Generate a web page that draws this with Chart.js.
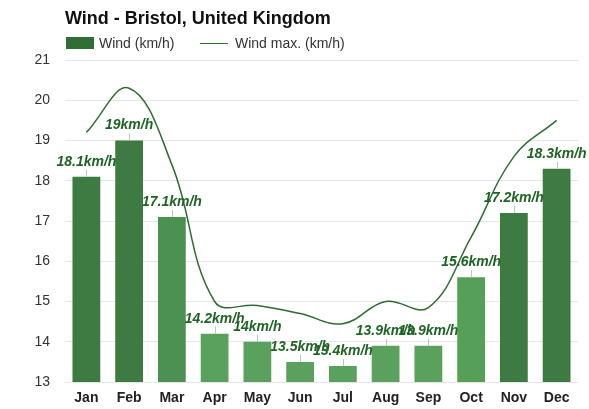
<!DOCTYPE html>
<html><head><meta charset="utf-8">
<script src="https://cdn.jsdelivr.net/npm/chart.js@4/dist/chart.umd.min.js"></script>
<style>
html,body{margin:0;padding:0;background:#fff;}
#wrap{position:relative;width:589px;height:409px;font-family:"Liberation Sans",Arial,Helvetica,sans-serif;}
#c{position:absolute;left:0;top:0;}
#title{position:absolute;left:65px;top:7px;font-size:18px;line-height:22px;font-weight:bold;color:#111;white-space:nowrap;}
.leg{position:absolute;top:35px;font-size:14px;line-height:16px;color:#333;white-space:nowrap;}
.box{position:absolute;left:66px;top:37px;width:28px;height:12px;background:#2f6e34;}
.ln{position:absolute;left:200px;top:43px;width:28px;height:0;border-top:1.5px solid #2e6d32;}
</style>
</head><body>
<div id="wrap">
<canvas id="c" width="589" height="409"></canvas>
<div id="title">Wind - Bristol, United Kingdom</div>
<div class="box"></div><div class="leg" style="left:99px">Wind (km/h)</div>
<div class="ln"></div><div class="leg" style="left:235px">Wind max. (km/h)</div>
</div>
<script>
const months = ["Jan","Feb","Mar","Apr","May","Jun","Jul","Aug","Sep","Oct","Nov","Dec"];
const windAvg = [18.1, 19, 17.1, 14.2, 14, 13.5, 13.4, 13.9, 13.9, 15.6, 17.2, 18.3];
const windMax = [19.2, 20.3, 18.4, 15.0, 14.9, 14.7, 14.45, 15.0, 14.85, 16.6, 18.6, 19.5];
const yMin = 13, yMax = 21, yStep = 1;
const unit = "km/h";

function barColor(v){
  if (v >= 17.2) return "#3d7b43";
  if (v >= 17.0) return "#4c9151";
  if (v >= 15.5) return "#55a059";
  return "#59a15d";
}

const labelPlugin = {
  id: "barLabels",
  afterDraw(chart){
    const ctx = chart.ctx;
    const meta = chart.getDatasetMeta(0);
    ctx.save();
    meta.data.forEach((el, i) => {
      const x = el.x, y = el.y;
      ctx.strokeStyle = "#b9c9b9";
      ctx.lineWidth = 1;
      ctx.beginPath();
      ctx.moveTo(Math.round(x) + 0.5, y);
      ctx.lineTo(Math.round(x) + 0.5, y - 7);
      ctx.stroke();
      ctx.font = "italic bold 14px 'Liberation Sans', Arial, sans-serif";
      ctx.fillStyle = "#1f6424";
      ctx.textAlign = "center";
      ctx.textBaseline = "middle";
      ctx.fillText(windAvg[i] + unit, x, y - 15);
    });
    ctx.restore();
  }
};

new Chart(document.getElementById("c"), {
  data: {
    labels: months,
    datasets: [
      {
        type: "bar",
        label: "Wind (km/h)",
        data: windAvg,
        backgroundColor: windAvg.map(barColor),
        borderWidth: 0,
        categoryPercentage: 1,
        barPercentage: 0.65,
        order: 1
      },
      {
        type: "line",
        label: "Wind max. (km/h)",
        data: windMax,
        borderColor: "#2e6d32",
        borderWidth: 1.5,
        pointRadius: 0,
        tension: 0.4,
        fill: false,
        order: 0
      }
    ]
  },
  options: {
    responsive: false,
    animation: false,
    layout: { padding: { top: 60, right: 11, left: 0, bottom: 0 } },
    plugins: { legend: { display: false }, title: { display: false }, tooltip: { enabled: false } },
    scales: {
      x: {
        grid: { display: false, drawTicks: false },
        border: { display: false },
        ticks: { font: { family: "'Liberation Sans', Arial, sans-serif", size: 14, weight: "bold" }, color: "#222", padding: 8 },
        afterFit(s){ s.height = 27; }
      },
      y: {
        min: yMin, max: yMax,
        ticks: { stepSize: yStep, font: { family: "'Liberation Sans', Arial, sans-serif", size: 14 }, color: "#333", padding: 15 },
        grid: { color: "#e6e6e6", drawTicks: false },
        border: { display: false },
        afterFit(s){ s.width = 65; }
      }
    }
  },
  plugins: [labelPlugin]
});
</script>
</body></html>
